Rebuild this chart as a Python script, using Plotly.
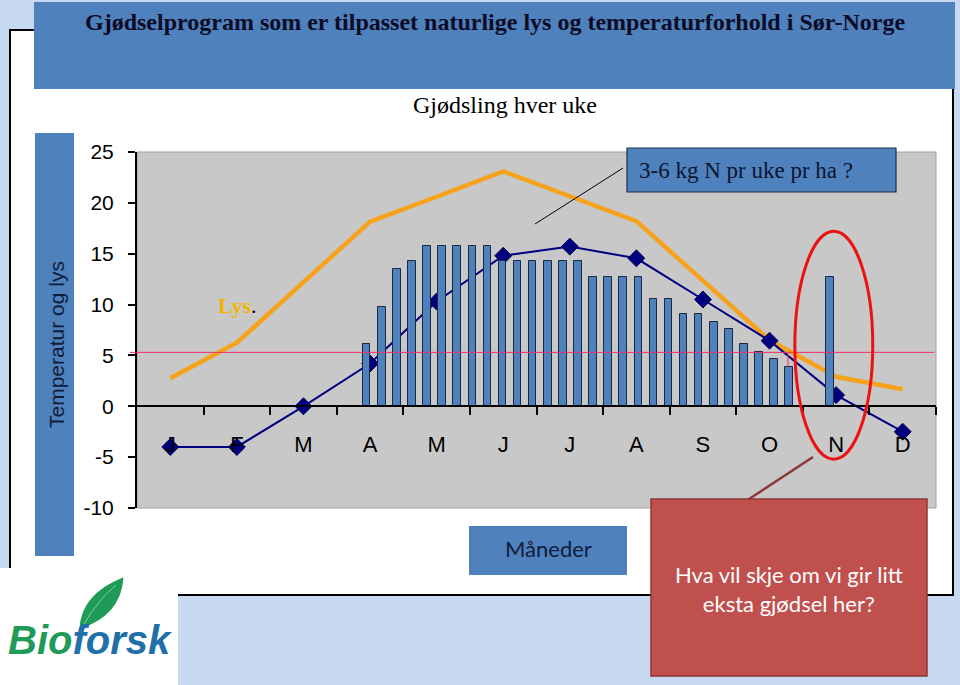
import plotly.graph_objects as go

W, H = 960, 685


def px(x):
    return x / W


def py(y):
    return 1 - y / H


# ---------------- data ----------------
months = ["J", "F", "M", "A", "M", "J", "J", "A", "S", "O", "N", "D"]
month_pos = [0.5, 1.5, 2.5, 3.5, 4.5, 5.5, 6.5, 7.5, 8.5, 9.5, 10.5, 11.5]
month_edges = [1, 2, 3, 4, 5, 6, 7, 8, 9, 10, 11, 12]
temperature = [-4.0, -4.0, 0.0, 4.2, 10.3, 14.8, 15.7, 14.55, 10.5, 6.45, 1.1, -2.5]
light = [2.75, 6.25, 12.2, 18.15, 20.6, 23.1, 20.65, 18.2, 12.35, 6.5, 2.9, 1.67]
weeks = [15, 16, 17, 18, 19, 20, 21, 22, 23, 24, 25, 26, 27, 28, 29,
         30, 31, 32, 33, 34, 35, 36, 37, 38, 39, 40, 41, 42, 43, 45.7]
fertilizer = [6.1, 9.8, 13.5, 14.25, 15.75, 15.75, 15.75, 15.75, 15.75,
              14.25, 14.25, 14.25, 14.25, 14.25, 14.25, 12.75, 12.75, 12.75, 12.75,
              10.5, 10.5, 9.05, 9.05, 8.3, 7.57, 6.1, 5.34, 4.62, 3.86, 12.75]
y_ticks = [-10, -5, 0, 5, 10, 15, 20, 25]
y_tick_text = ["-10", "-5", "0", "5", "10", "15", "20", "25"]
threshold = 5.3

# ---------------- geometry ----------------
PL, PR, PT, PB = 137, 936, 152, 508
Y0, Y1 = -10, 25
zero_pix = PT + (PB - PT) * Y1 / (Y1 - Y0)
week_px = 15.09
w0 = 15 - (366.7 - PL) / week_px
w1 = w0 + (PR - PL) / week_px

BLUE = "#4f81bd"

fig = go.Figure()

fig.add_trace(go.Bar(
    x=weeks, y=fertilizer, xaxis="x2", yaxis="y", width=0.5,
    marker=dict(color=BLUE, line=dict(color="#1b2840", width=1)),
    hoverinfo="skip",
))
fig.add_trace(go.Scatter(
    x=month_pos, y=light, mode="lines", xaxis="x", yaxis="y",
    line=dict(color="#f7a21b", width=4.5), hoverinfo="skip",
))
fig.add_trace(go.Scatter(
    x=month_pos, y=temperature, mode="lines+markers", xaxis="x", yaxis="y",
    line=dict(color="#000080", width=2),
    marker=dict(symbol="diamond", size=13, color="#000080",
                line=dict(color="#00004a", width=1)),
    hoverinfo="skip",
))
# invisible trace to host month-label axis
fig.add_trace(go.Scatter(x=month_pos, y=[None] * 12, xaxis="x3", yaxis="y",
                         mode="markers", hoverinfo="skip", showlegend=False))

shapes = []


def rect(x0, y0, x1, y1, fill, line=None, lw=0, layer="below"):
    shapes.append(dict(type="rect", xref="paper", yref="paper",
                       x0=px(x0), x1=px(x1), y0=py(y1), y1=py(y0),
                       fillcolor=fill, layer=layer,
                       line=dict(color=line or fill, width=lw)))


def seg(x0, y0, x1, y1, color, width, layer="above"):
    shapes.append(dict(type="line", xref="paper", yref="paper",
                       x0=px(x0), x1=px(x1), y0=py(y0), y1=py(y1),
                       layer=layer, line=dict(color=color, width=width)))


# background pieces
rect(10, 30, 953, 595, "white", "black", 2)
rect(0, 568, 178, 685, "white")
rect(PL, PT, PR, PB, "#c8c8c8", "#a0a0a0", 1)
rect(34, 2, 955, 89, BLUE)
rect(35, 133, 74, 556, BLUE)
rect(469, 526, 627, 575, BLUE)

# threshold line
shapes.append(dict(type="line", xref="paper", yref="y", x0=px(130), x1=px(934),
                   y0=threshold, y1=threshold, layer="above",
                   line=dict(color="#f0306e", width=1)))
shapes.append(dict(type="line", xref="paper", yref="y", x0=px(788), x1=px(788),
                   y0=threshold, y1=3.9, layer="above",
                   line=dict(color="#f0306e", width=1)))

# red ellipse
shapes.append(dict(type="circle", xref="x", yref="y", x0=9.88, x1=11.05,
                   y0=-5.2, y1=17.2, layer="above",
                   line=dict(color="#ee1111", width=3)))

# blue callout box and connector
seg(623, 168, 535, 224, "black", 1)
rect(627, 148, 896, 192, BLUE, "#1f2d4a", 1.2, layer="above")

# red callout box and connector
seg(746, 501, 813, 457, "#8c3836", 2.5)
rect(651, 499, 927, 676, "#c0504d", "#8c3836", 1.5, layer="above")

# logo leaf
leaf = ("M {a},{b} Q {c},{d} {e},{f} Q {g},{h} {a},{b} Z").format(
    a=px(80), b=py(628), c=px(82), d=py(594), e=px(123), f=py(578),
    g=px(120), h=py(616))
shapes.append(dict(type="path", xref="paper", yref="paper", path=leaf,
                   fillcolor="#1e9b57", line=dict(color="#1e9b57", width=1),
                   layer="above"))
vein = ("M {a},{b} Q {c},{d} {e},{f}").format(
    a=px(84), b=py(624), c=px(98), d=py(600), e=px(116), f=py(585))
shapes.append(dict(type="path", xref="paper", yref="paper", path=vein,
                   line=dict(color="#7fcf9a", width=1), layer="above"))

annotations = []


def text(x, y, t, size, color, family, xanchor="center", angle=0):
    annotations.append(dict(x=px(x), y=py(y), xref="paper", yref="paper",
                            text=t, showarrow=False, xanchor=xanchor,
                            yanchor="middle", textangle=angle,
                            font=dict(size=size, color=color, family=family)))


SERIF = "Liberation Serif"
SANS = "Liberation Sans"
CAL = "Lato"

text(495, 22, "<b>Gjødselprogram som er tilpasset naturlige lys og temperaturforhold i Sør-Norge</b>",
     24, "#0b0b26", SERIF)
text(505, 105, "Gjødsling hver uke", 24, "black", SERIF)
text(637, 170, "3-6 kg N pr uke pr ha ?", 23, "#0b1530", SERIF, xanchor="left")
text(216, 306, "<b><span style='color:#f2b400'>Lys</span></b>.", 22, "black", SERIF,
     xanchor="left")
text(56, 345, "Temperatur og lys", 21, "#0f1c3a", SANS, angle=-90)
text(548, 548, "Måneder", 22, "#0f1c3a", CAL)
text(789, 589, "Hva vil skje om vi gir litt<br>eksta gjødsel her?", 22, "white", CAL)
text(90, 640, "<b><i><span style='color:#1e9b57'>Bio</span>"
     "<span style='color:#1f6fa8'>forsk</span></i></b>", 40, "#1e9b57", SANS)

xdom = [px(PL), px(PR)]
ydom = [py(PB), py(PT)]
axis_pos = py(zero_pix)

fig.update_layout(
    width=W, height=H,
    margin=dict(l=0, r=0, t=0, b=0, autoexpand=False),
    paper_bgcolor="#c6d9f1",
    plot_bgcolor="rgba(0,0,0,0)",
    showlegend=False,
    bargap=0,
    xaxis=dict(domain=xdom, range=[0, 12], anchor="free", position=axis_pos,
               tickmode="array", tickvals=month_edges, ticktext=[""] * 12,
               ticks="outside", ticklen=8, tickwidth=2, tickcolor="black",
               showline=True, linecolor="black", linewidth=2,
               showgrid=False, zeroline=False, fixedrange=True),
    xaxis2=dict(domain=xdom, range=[w0, w1], overlaying="x", anchor="y",
                visible=False, fixedrange=True),
    xaxis3=dict(domain=xdom, range=[0, 12], overlaying="x", anchor="free",
                position=axis_pos, side="bottom",
                tickmode="array", tickvals=month_pos, ticktext=months,
                ticks="", showline=False, showgrid=False, zeroline=False,
                ticklabelstandoff=23,
                tickfont=dict(family=SANS, size=22, color="black"),
                fixedrange=True),
    yaxis=dict(domain=ydom, range=[Y0, Y1], anchor="x",
               tickmode="array", tickvals=y_ticks, ticktext=y_tick_text,
               ticks="outside", ticklen=7, tickwidth=2, tickcolor="black",
               showline=True, linecolor="black", linewidth=2,
               showgrid=False, zeroline=False, ticklabelstandoff=10,
               tickfont=dict(family=SANS, size=21, color="black"),
               fixedrange=True),
    shapes=shapes,
    annotations=annotations,
)

fig.write_html("out.html")
